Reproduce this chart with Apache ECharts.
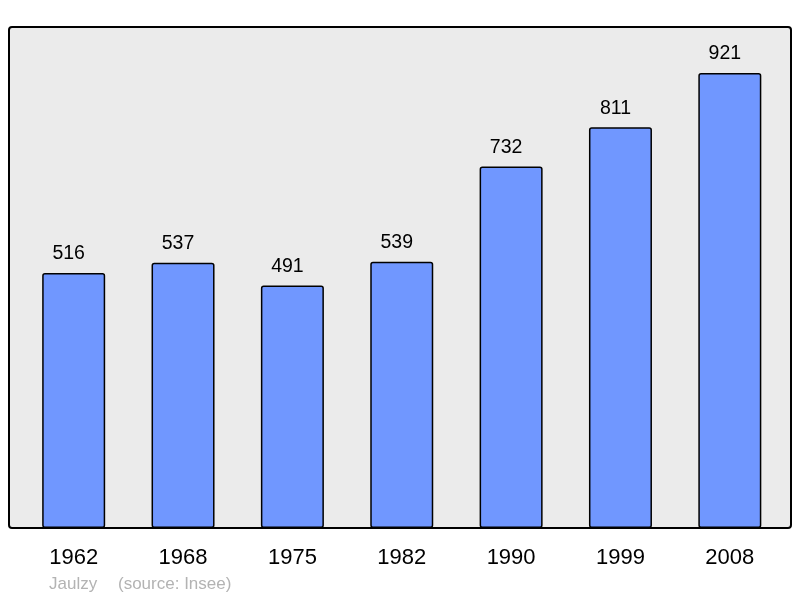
<!DOCTYPE html>
<html><head><meta charset="utf-8">
<script src="https://cdn.jsdelivr.net/npm/echarts@6/dist/echarts.min.js"></script>
<style>html,body{margin:0;padding:0;background:#fff}#c{width:800px;height:598px}</style>
</head><body><div id="c"></div>
<script>
var years = ['1962','1968','1975','1982','1990','1999','2008'];
var population = [516, 537, 491, 539, 732, 811, 921];
var author = 'Jaulzy';
var source = '(source: Insee)';

var chart = echarts.init(document.getElementById('c'), null, {renderer:'canvas'});
chart.setOption({
  animation: false,
  backgroundColor: '#ffffff',
  graphic: [
    {type:'rect', z:-10, shape:{x:9, y:27, width:782, height:501, r:3}, style:{fill:'#ebebeb', stroke:null}},
    {type:'rect', z:100, shape:{x:9, y:27, width:782, height:501, r:3}, style:{fill:null, stroke:'#000', lineWidth:2}},
    {type:'text', left:49, top:576, style:{text:author, fill:'#b3b3b3', font:'17px "Liberation Sans", Arial, sans-serif'}},
    {type:'text', left:118, top:576, style:{text:source, fill:'#b3b3b3', font:'17px "Liberation Sans", Arial, sans-serif'}}
  ],
  grid: {left:19, right:15.5, top:34, bottom:70, containLabel:false},
  xAxis: {
    type:'category', data: years,
    axisLine:{show:false}, axisTick:{show:false},
    axisLabel:{color:'#000', fontSize:22, fontFamily:'"Liberation Sans", Arial, sans-serif', margin:19}
  },
  yAxis: {type:'value', min:0, max:1000, show:false, splitLine:{show:false}},
  series: [{
    type:'bar', data: population, barWidth:63,
    itemStyle:{color:'#7097ff', borderColor:'#000', borderWidth:1.5, borderRadius:2},
    label:{show:true, position:'top', distance:9, offset:[-5,0], color:'#000', fontSize:19.5, fontFamily:'"Liberation Sans", Arial, sans-serif'}
  }]
});
</script></body></html>
